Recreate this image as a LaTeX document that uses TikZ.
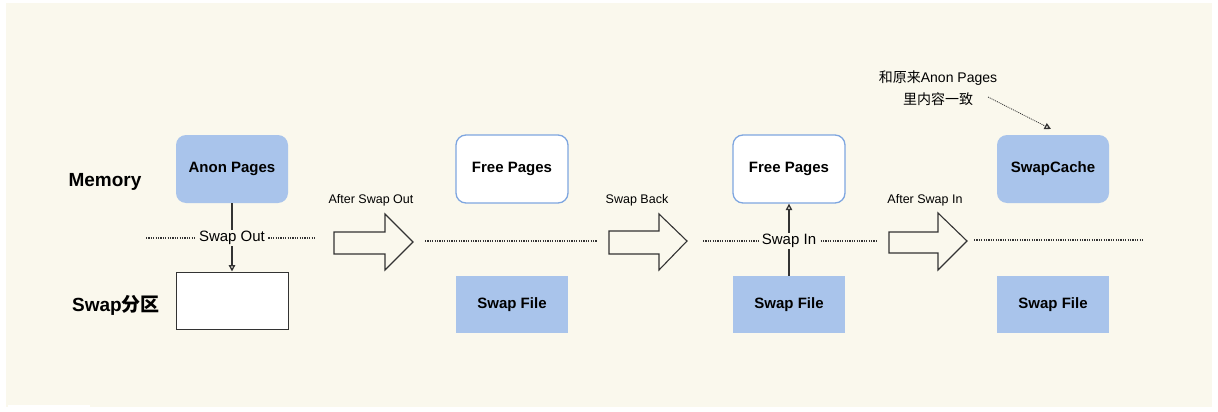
\documentclass[tikz,border=0pt]{standalone}
\usepackage{fontspec}
\setmainfont{Liberation Sans}
\newfontfamily\cjk{Noto Sans CJK SC}
\usetikzlibrary{arrows.meta}
\definecolor{bgc}{HTML}{FAF8ED}
\definecolor{boxblue}{HTML}{A9C4EB}
\definecolor{edgeblue}{HTML}{7EA6E0}
\definecolor{ink}{HTML}{333333}
\tikzset{
  bluebox/.style={fill=boxblue, draw=none, minimum width=112pt, minimum height=68pt, font=\fontsize{15}{18}\selectfont\bfseries, text=black},
  bluerounded/.style={bluebox, rounded corners=10pt},
  freebox/.style={bluerounded, fill=white, draw=edgeblue, line width=1.3pt},
  filebox/.style={bluebox, minimum height=57pt},
  emptybox/.style={draw=ink, fill=white, line width=1pt, minimum width=112pt, minimum height=57pt},
  rowlabel/.style={font=\fontsize{19}{22}\selectfont\bfseries, text=black},
  steplabel/.style={font=\fontsize{12.5}{15}\selectfont, text=black},
  linelabel/.style={font=\fontsize{15}{18}\selectfont, text=black, fill=bgc, inner xsep=3pt, inner ysep=1.5pt},
  dotline/.style={draw=ink, line width=1.7pt, dash pattern=on 1.2pt off 1.2pt},
  hollow/.style={draw=ink, fill=bgc, line width=1.1pt, line join=miter},
  conn/.style={draw=ink, line width=1.1pt, -{Triangle[open, length=6.5pt, width=6.5pt, line width=1.3pt]}},
  noteconn/.style={draw=ink, line width=0.8pt, dash pattern=on 1pt off 1pt, -{Triangle[open, length=6.5pt, width=6.5pt, line width=1.3pt]}}
}
\begin{document}
\begin{tikzpicture}[x=1pt, y=-1pt]
\useasboundingbox (0,0) rectangle (1218,412);
\fill[white] (0,0) rectangle (1218,412);
\fill[bgc] (6,3) rectangle (1212,407);
\fill[white] (8,405) rectangle (90,412);

% row labels
\node[rowlabel] (mem) at (105,182) {Memory};
\node[rowlabel] (swp) at (116,305) {Swap{\cjk 分区}};

% dotted separators
\coordinate (d1a) at (146,238); \coordinate (d1b) at (316,238);
\coordinate (d2a) at (425,241); \coordinate (d2b) at (597,241);
\coordinate (d3a) at (703,241); \coordinate (d3b) at (877,241);
\coordinate (d4a) at (974,240); \coordinate (d4b) at (1144,240);
\draw[dotline] (d1a) -- (d1b);
\draw[dotline] (d2a) -- (d2b);
\draw[dotline] (d3a) -- (d3b);
\draw[dotline] (d4a) -- (d4b);

% stage 1
\node[bluerounded] (anon) at (232,169) {Anon Pages};
\node[emptybox] (part) at (232,300.5) {};
\draw[conn] (anon.south) -- (part.north);
\node[linelabel] (swout) at (232,238) {Swap Out};

% arrow 1
\draw[hollow] (334,232) -- (385,232) -- (385,214) -- (413,242) -- (385,270) -- (385,254) -- (334,254) -- cycle;
\node[steplabel] (l1) at (371,200) {After Swap Out};

% stage 2
\node[freebox] (free1) at (512,169) {Free Pages};
\node[filebox] (file1) at (512,304.5) {Swap File};

% arrow 2
\draw[hollow] (609,231) -- (659,231) -- (659,214) -- (687,241) -- (659,270) -- (659,254) -- (609,254) -- cycle;
\node[steplabel] (l2) at (637,200) {Swap Back};

% stage 3
\node[freebox] (free2) at (789,169) {Free Pages};
\node[filebox] (file2) at (789,304.5) {Swap File};
\draw[conn] (file2.north) -- (free2.south);
\node[linelabel] (swin) at (789,241) {Swap In};

% arrow 3
\draw[hollow] (889,232) -- (938,232) -- (938,213) -- (967,241) -- (938,270) -- (938,253) -- (889,253) -- cycle;
\node[steplabel] (l3) at (925,200) {After Swap In};

% stage 4
\node[bluerounded] (cache) at (1053,169) {SwapCache};
\node[filebox] (file3) at (1053,304.5) {Swap File};

% note
\node[font=\fontsize{14}{22}\selectfont, text=black, align=center] (note) at (938,88) {{\cjk 和原来}Anon Pages\\{\cjk 里内容一致}};
\coordinate (notetail) at (988,97);
\coordinate (notetip) at (1051,129);
\draw[noteconn] (notetail) -- (notetip);
\end{tikzpicture}
\end{document}
